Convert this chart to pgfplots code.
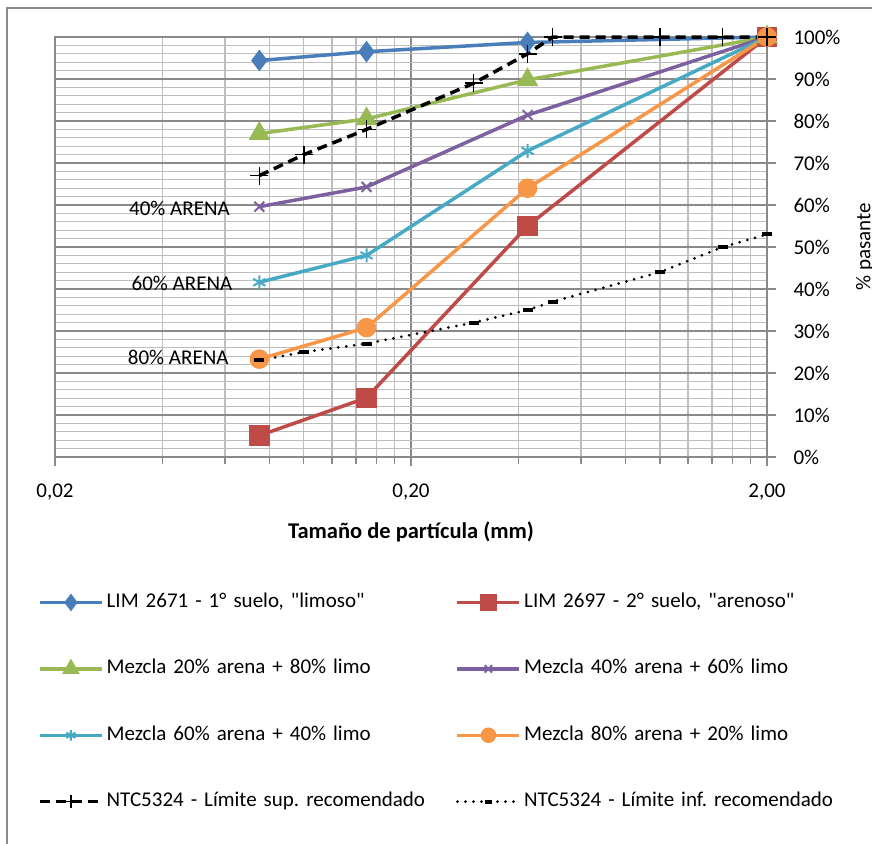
\documentclass[border=0pt]{standalone}
\usepackage{fontspec}
\setmainfont{Carlito}
\newfontfamily\rawfont{Carlito}
\usepackage{pgfplots}
\pgfplotsset{compat=1.18}
\definecolor{blueS}{HTML}{4A7EBB}
\definecolor{redS}{HTML}{BE4B48}
\definecolor{greenS}{HTML}{98B954}
\definecolor{purpleS}{HTML}{7D60A0}
\definecolor{cyanS}{HTML}{46AAC5}
\definecolor{orangeS}{HTML}{F79646}
\definecolor{majgrid}{HTML}{8A8A8A}
\definecolor{mingrid}{HTML}{BEBEBE}
\newcommand\fs{\fontsize{21pt}{25pt}\selectfont\frenchspacing}
\newcommand\q{{\rawfont"}}
\begin{document}
\frenchspacing
\begin{tikzpicture}
\useasboundingbox (0pt,0pt) rectangle (872pt,-843pt);
\draw[color=majgrid, line width=1.5pt] (7pt,-850pt) -- (7pt,-8pt) -- (880pt,-8pt);
\begin{axis}[
  at={(55pt,-457pt)}, anchor=south west,
  scale only axis, width=712pt, height=420pt,
  xmode=log, xmin=0.02, xmax=2, ymin=0, ymax=100,
  clip=false,
  xtick={0.02,0.2,2}, xticklabels={{0,02},{0,20},{2,00}},
  minor xtick={0.04,0.06,0.08,0.1,0.12,0.14,0.16,0.18,0.4,0.6,0.8,1,1.2,1.4,1.6,1.8},
  ytick={0,10,...,100},
  yticklabels={0\%,10\%,20\%,30\%,40\%,50\%,60\%,70\%,80\%,90\%,100\%},
  minor y tick num=4,
  grid=both,
  major grid style={color=majgrid, line width=1.3pt},
  minor grid style={color=mingrid, line width=1.3pt},
  axis line style={color=majgrid, line width=1.3pt},
  tick align=outside,
  xtick pos=bottom, ytick pos=right, yticklabel pos=right,
  major tick length=9pt, minor tick length=7pt,
  every tick/.style={color=majgrid, line width=1.3pt},
  minor y tick style={draw=none},
  tick label style={font=\fs, text=black},
  xticklabel style={yshift=-14pt},
  yticklabel style={anchor=west, xshift=14pt},
  xlabel={\textbf{Tamaño de partícula (mm)}},
  xlabel style={font=\fontsize{22.5pt}{26pt}\selectfont, at={(axis description cs:0.5,-0.1786)}, anchor=center},
  ylabel={\% pasante},
  ylabel style={font=\fs, at={(axis description cs:1.1376,0.5)}, anchor=center, rotate=0},
  legend columns=2,
  legend cell align=left,
  legend style={draw=none, fill=none, at={(axis description cs:-0.0239,-0.322)}, anchor=north west,
    font=\fs, inner sep=0pt, row sep=46.4pt,
    nodes={text width=335pt, inner xsep=3pt, inner ysep=0pt, text height=15pt, text depth=5pt},
    /tikz/every even column/.append style={column sep=11pt}},
  legend image code/.code={\draw[mark repeat=2,mark phase=2,#1, every mark/.append style={scale=0.75}] plot coordinates {(0pt,0pt)(31pt,0pt)(62pt,0pt)};},
]
\addplot[color=blueS, line width=3.5pt, mark=diamond*, mark size=8pt, mark options={solid}] coordinates {(0.075,94.4) (0.15,96.5) (0.425,98.7) (2,100)};
\addlegendentry{LIM 2671 - 1° suelo, \q limoso\q}
\addplot[color=redS, line width=3.5pt, mark=square*, mark size=8.5pt, mark options={solid}] coordinates {(0.075,5.1) (0.15,14.1) (0.425,55.0) (2,100)};
\addlegendentry{LIM 2697 - 2° suelo, \q arenoso\q}
\addplot[color=greenS, line width=3.5pt, mark=triangle*, mark size=9pt, mark options={solid}] coordinates {(0.075,77.0) (0.15,80.5) (0.425,89.8) (2,100)};
\addlegendentry{Mezcla 20\% arena + 80\% limo}
\addplot[color=purpleS, line width=3.5pt, mark=x, mark size=7pt, mark options={solid, line width=2pt}] coordinates {(0.075,59.6) (0.15,64.3) (0.425,81.4) (2,100)};
\addlegendentry{Mezcla 40\% arena + 60\% limo}
\addplot[color=cyanS, line width=3.5pt, mark=asterisk, mark size=7pt, mark options={solid, line width=2pt}] coordinates {(0.075,41.6) (0.15,48.0) (0.425,72.9) (2,100)};
\addlegendentry{Mezcla 60\% arena + 40\% limo}
\addplot[color=orangeS, line width=3.5pt, mark=*, mark size=8pt, mark options={solid}] coordinates {(0.075,23.3) (0.15,30.8) (0.425,64.0) (2,100)};
\addlegendentry{Mezcla 80\% arena + 20\% limo}
\addplot[color=black, line width=3.5pt, dash pattern=on 10pt off 6pt, mark=+, mark size=9pt, mark options={solid, line width=1.5pt}] coordinates {(0.075,67) (0.1,72) (0.15,78) (0.3,89) (0.425,96) (0.5,100) (1,100) (1.5,100) (2,100)};
\addlegendentry{NTC5324 - Límite sup. recomendado}
\addplot[color=black, line width=3pt, line cap=round, dash pattern=on 0pt off 8pt, mark=-, mark size=5pt, mark options={solid, line width=4pt, line cap=butt}] coordinates {(0.075,23) (0.1,25) (0.15,27) (0.3,32) (0.425,35) (0.5,37) (1,44) (1.5,50) (2,53)};
\addlegendentry{NTC5324 - Límite inf. recomendado}
\node[anchor=east, font=\fs, text=black, inner sep=0pt] at (axis cs:0.062,59.3) {40\% ARENA};
\node[anchor=east, font=\fs, text=black, inner sep=0pt] at (axis cs:0.063,41.4) {60\% ARENA};
\node[anchor=east, font=\fs, text=black, inner sep=0pt] at (axis cs:0.0615,23.6) {80\% ARENA};
\end{axis}
\end{tikzpicture}
\end{document}
